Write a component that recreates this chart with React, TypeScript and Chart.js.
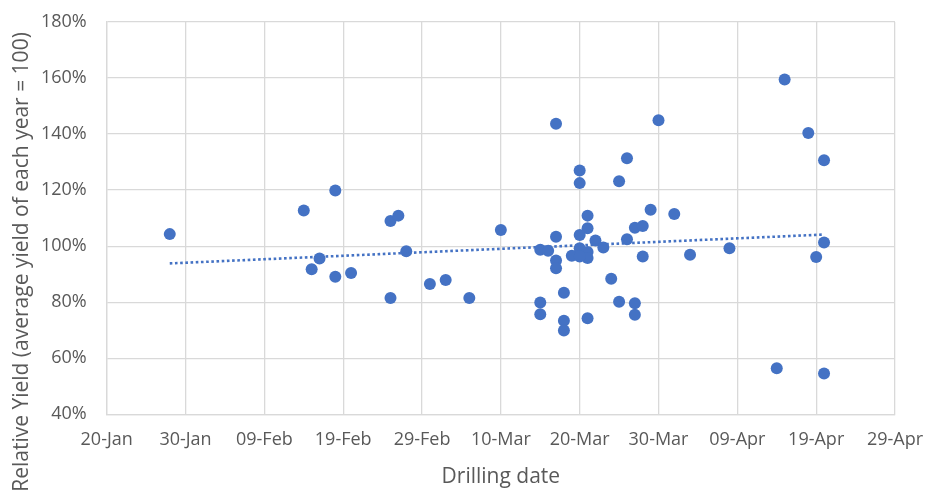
import React, { useEffect, useRef } from "react";
import { Chart, registerables } from "chart.js";

Chart.register(...registerables);

// Drilling dates (2020) and relative yield (%)
const drillDates: string[] = [
  "2020-01-28", "2020-02-14", "2020-02-15", "2020-02-16", "2020-02-18", "2020-02-18",
  "2020-02-20", "2020-02-25", "2020-02-26", "2020-02-27", "2020-02-25", "2020-03-01",
  "2020-03-03", "2020-03-06", "2020-03-10", "2020-03-17", "2020-03-30", "2020-03-26",
  "2020-03-20", "2020-03-20", "2020-03-25", "2020-03-29", "2020-04-01", "2020-03-21",
  "2020-03-21", "2020-03-20", "2020-03-17", "2020-03-27", "2020-03-28", "2020-03-26",
  "2020-03-22", "2020-03-23", "2020-03-15", "2020-03-16", "2020-03-19", "2020-03-20",
  "2020-03-21", "2020-03-21", "2020-03-20", "2020-03-17", "2020-03-17", "2020-03-28",
  "2020-04-03", "2020-03-24", "2020-03-18", "2020-03-15", "2020-03-15", "2020-03-25",
  "2020-03-27", "2020-03-27", "2020-03-18", "2020-03-18", "2020-03-21", "2020-04-15",
  "2020-04-18", "2020-04-20", "2020-04-20", "2020-04-19", "2020-04-08", "2020-04-14",
  "2020-04-20",
];

const relativeYield: number[] = [
  104.3, 112.7, 91.8, 95.6, 119.9, 89.1,
  90.4, 109.0, 110.9, 98.2, 81.5, 86.5,
  87.9, 81.5, 105.8, 143.7, 144.9, 131.4,
  127.0, 122.5, 123.2, 113.0, 111.5, 110.9,
  106.4, 104.0, 103.4, 106.6, 107.2, 102.5,
  102.0, 99.5, 98.7, 98.4, 96.6, 99.3,
  97.9, 95.8, 96.3, 94.9, 92.1, 96.3,
  96.9, 88.4, 83.4, 79.9, 75.7, 80.2,
  79.6, 75.5, 73.4, 69.9, 74.3, 159.5,
  140.4, 130.7, 101.3, 96.1, 99.3, 56.4,
  54.6,
];

const axisStartDate = "2020-01-20";
const xTickLabels: string[] = [
  "20-Jan", "30-Jan", "09-Feb", "19-Feb", "29-Feb", "10-Mar",
  "20-Mar", "30-Mar", "09-Apr", "19-Apr", "29-Apr",
];
const yMin = 40;
const yMax = 180;
const yStep = 20;

const DAY = 86400000;
const dayOffset = (iso: string) => (Date.parse(iso) - Date.parse(axisStartDate)) / DAY;

const yTitlePlugin = {
  id: "yTitle",
  afterDraw(chart: any) {
    const ctx = chart.ctx;
    ctx.save();
    ctx.translate(22, 262);
    ctx.rotate(-Math.PI / 2);
    ctx.textAlign = "center";
    ctx.textBaseline = "middle";
    ctx.font = '21px "Open Sans"';
    ctx.fillStyle = "#595959";
    ctx.fillText("Relative Yield (average yield of each year = 100)", 0, 0);
    ctx.restore();
  },
};

const zeroPad = (s: any) => {
  s.paddingTop = 0;
  s.paddingBottom = 0;
  s.paddingLeft = 0;
  s.paddingRight = 0;
};

export default function App() {
  const ref = useRef<HTMLCanvasElement | null>(null);

  useEffect(() => {
    document.body.style.margin = "0";
    const points = drillDates.map((d, i) => ({ x: dayOffset(d), y: relativeYield[i] }));
    // least-squares linear trend
    const n = points.length;
    const mx = points.reduce((s, p) => s + p.x, 0) / n;
    const my = points.reduce((s, p) => s + p.y, 0) / n;
    let sxy = 0, sxx = 0;
    points.forEach((p) => { sxy += (p.x - mx) * (p.y - my); sxx += (p.x - mx) * (p.x - mx); });
    const slope = sxy / sxx;
    const icpt = my - slope * mx;
    const xs = points.map((p) => p.x);
    const x0 = Math.min(...xs);
    const x1 = Math.max(...xs);
    const trend = [
      { x: x0, y: icpt + slope * x0 },
      { x: x1, y: icpt + slope * x1 },
    ];

    const chart = new Chart(ref.current as HTMLCanvasElement, {
      type: "scatter",
      data: {
        datasets: [
          {
            type: "line",
            label: "Trend",
            data: trend,
            borderColor: "#4472C4",
            borderWidth: 2.6,
            borderDash: [2.6, 2.6],
            pointRadius: 0,
            fill: false,
            order: 0,
          } as any,
          {
            label: "Relative yield",
            data: points,
            backgroundColor: "#4472C4",
            borderColor: "#4472C4",
            borderWidth: 0,
            pointRadius: 6,
            pointHoverRadius: 6,
            order: 1,
          },
        ],
      },
      options: {
        animation: false,
        responsive: false,
        events: [],
        layout: { padding: { top: 22, right: 30, left: 0, bottom: 0 } },
        plugins: { legend: { display: false }, tooltip: { enabled: false } },
        scales: {
          x: {
            type: "linear",
            min: 0,
            max: (xTickLabels.length - 1) * 10,
            afterFit: (s: any) => { s.height = 75.7; zeroPad(s); },
            ticks: {
              stepSize: 10,
              padding: 15,
              color: "#595959",
              font: { family: '"Open Sans"', size: 18 },
              maxRotation: 0,
              autoSkip: false,
              callback: (v: any) => xTickLabels[Math.round(Number(v) / 10)] ?? "",
            },
            grid: { color: "#d9d9d9", lineWidth: 1.3, drawTicks: false },
            border: { color: "#d9d9d9", width: 1.3 },
            title: {
              display: true,
              text: "Drilling date",
              color: "#595959",
              font: { family: '"Open Sans"', size: 21 },
              padding: { top: 0, bottom: 0 },
            },
          },
          y: {
            min: yMin,
            max: yMax,
            afterFit: (s: any) => { s.width = 106.7; zeroPad(s); },
            ticks: {
              stepSize: yStep,
              padding: 20,
              color: "#595959",
              font: { family: '"Open Sans"', size: 18 },
              callback: (v: any) => `${v}%`,
            },
            grid: { color: "#d9d9d9", lineWidth: 1.3, drawTicks: false },
            border: { color: "#d9d9d9", width: 1.3 },
          },
        },
      },
      plugins: [yTitlePlugin],
    });
    return () => chart.destroy();
  }, []);

  return (
    <div style={{ position: "absolute", left: 0, top: 0, width: 925, height: 490, background: "#fff" }}>
      <canvas ref={ref} width={925} height={490} style={{ width: 925, height: 490 }} />
    </div>
  );
}
